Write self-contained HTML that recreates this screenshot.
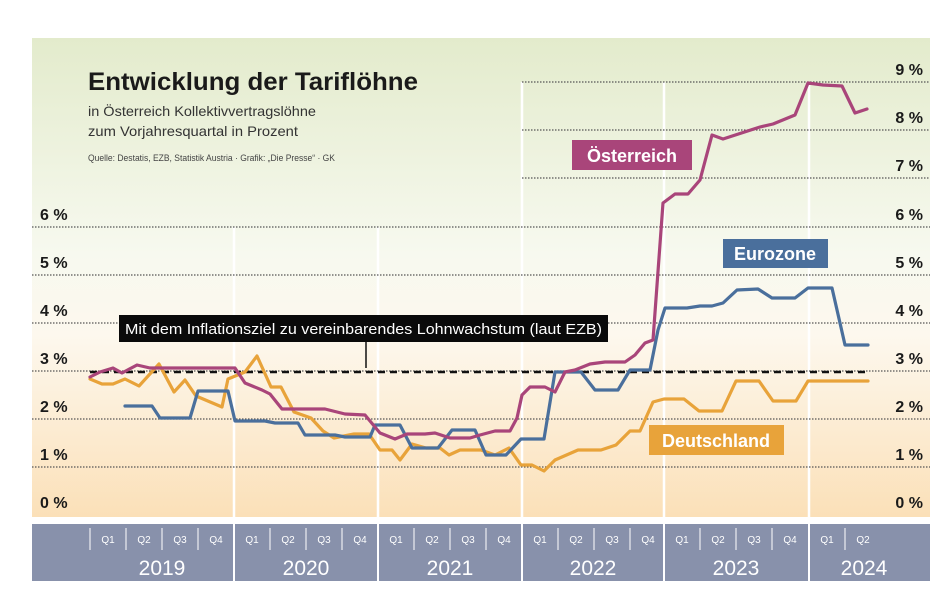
<!DOCTYPE html>
<html><head><meta charset="utf-8"><style>
html,body{margin:0;padding:0;background:#fff;width:945px;height:593px;overflow:hidden}
svg{display:block;font-family:"Liberation Sans",sans-serif}
</style></head><body>
<svg width="945" height="593" viewBox="0 0 945 593">
<defs>
<linearGradient id="bg" x1="0" y1="0" x2="0" y2="1">
<stop offset="0" stop-color="#e3ebcc"/>
<stop offset="0.45" stop-color="#f7f9ef"/>
<stop offset="0.62" stop-color="#fdf8ee"/>
<stop offset="1" stop-color="#fbe0b8"/>
</linearGradient>
</defs>
<rect x="32" y="38" width="898" height="479" fill="url(#bg)"/>
<g stroke="#fff" stroke-width="2.5">
<line x1="234" y1="227" x2="234" y2="517"/>
<line x1="378" y1="227" x2="378" y2="517"/>
<line x1="522" y1="82" x2="522" y2="517"/>
<line x1="664" y1="82" x2="664" y2="517"/>
<line x1="809" y1="82" x2="809" y2="517"/>
</g>
<g stroke="#555" stroke-width="1.3" stroke-dasharray="1.5 1.5">
<line x1="522" y1="82" x2="930" y2="82"/>
<line x1="522" y1="130" x2="930" y2="130"/>
<line x1="522" y1="178" x2="930" y2="178"/>
<line x1="32" y1="227" x2="930" y2="227"/>
<line x1="32" y1="275" x2="930" y2="275"/>
<line x1="32" y1="323" x2="930" y2="323"/>
<line x1="32" y1="371" x2="930" y2="371"/>
<line x1="32" y1="419" x2="930" y2="419"/>
<line x1="32" y1="467" x2="930" y2="467"/>
</g>
<text x="88" y="90" font-size="25" font-weight="bold" fill="#1a1a1a" textLength="330" lengthAdjust="spacingAndGlyphs">Entwicklung der Tariflöhne</text>
<text x="88" y="116" font-size="14" fill="#333" textLength="228" lengthAdjust="spacingAndGlyphs">in Österreich Kollektivvertragslöhne</text>
<text x="88" y="136" font-size="14" fill="#333" textLength="210" lengthAdjust="spacingAndGlyphs">zum Vorjahresquartal in Prozent</text>
<text x="88" y="161" font-size="9" fill="#444" textLength="247" lengthAdjust="spacingAndGlyphs">Quelle: Destatis, EZB, Statistik Austria · Grafik: „Die Presse“ · GK</text>
<g font-size="16" font-weight="bold" fill="#1a1a1a">
<text x="40" y="220">6 %</text>
<text x="40" y="268">5 %</text>
<text x="40" y="316">4 %</text>
<text x="40" y="364">3 %</text>
<text x="40" y="412">2 %</text>
<text x="40" y="460">1 %</text>
<text x="40" y="508">0 %</text>
</g>
<g font-size="16" font-weight="bold" fill="#1a1a1a" text-anchor="end">
<text x="923" y="75">9 %</text>
<text x="923" y="123">8 %</text>
<text x="923" y="171">7 %</text>
<text x="923" y="220">6 %</text>
<text x="923" y="268">5 %</text>
<text x="923" y="316">4 %</text>
<text x="923" y="364">3 %</text>
<text x="923" y="412">2 %</text>
<text x="923" y="460">1 %</text>
<text x="923" y="508">0 %</text>
</g>
<line x1="366" y1="342" x2="366" y2="368" stroke="#111" stroke-width="1.5"/>
<rect x="119" y="315" width="489" height="27" fill="#0a0a0a"/>
<text x="125" y="334" font-size="15" fill="#fff" textLength="477" lengthAdjust="spacingAndGlyphs">Mit dem Inflationsziel zu vereinbarendes Lohnwachstum (laut EZB)</text>
<line x1="90" y1="372" x2="868" y2="372" stroke="#111" stroke-width="2.5" stroke-dasharray="7 5"/>
<g fill="none" stroke-width="3.2" stroke-linejoin="round" stroke-linecap="round">
<polyline stroke="#e8a33a" points="90,379 102,384 113,384 125,379 139,386 159,364 174,392 185,380 196,396 222,407 228,379 245,372 257,356 271,387 281,387 294,412 311,418 323,431 334,438 354,434 369,434 380,450 392,450 400,460 412,444 426,448 440,448 449,455 460,450 481,450 495,455 509,448 521,465 532,465 544,471 555,460 578,450 601,450 616,445 630,431 640,431 653,402 664,399 684,399 699,411 722,411 736,381 759,381 773,401 796,401 808,381 868,381"/>
<polyline stroke="#4a6f9c" points="125,406 152,406 160,418 190,418 198,391 228,391 235,421 265,421 275,423 298,423 305,435 335,435 345,437 370,437 375,425 400,425 412,448 438,448 452,430 475,430 486,455 506,455 521,439 544,439 555,372 581,372 595,390 618,390 630,370 650,370 658,330 665,308 687,308 700,306 712,306 723,303 737,290 758,289 772,298 795,298 808,288 832,288 840,323 845,345 868,345"/>
<polyline stroke="#a9457a" points="90,377 100,372 113,368 122,373 137,365 150,368 235,368 245,383 262,390 270,394 282,409 325,409 345,414 365,415 380,433 395,439 407,434 425,434 435,433 450,438 470,438 480,435 495,431 510,431 517,418 522,395 530,387 545,387 555,392 565,372 575,370 590,364 605,362 625,362 635,355 645,343 653,340 663,203 675,194 688,194 700,180 712,135 723,139 760,127 773,124 795,115 808,83 823,85 842,86 855,113 867,109"/>
</g>
<rect x="572" y="140" width="120" height="30" fill="#a9457a"/>
<text x="632" y="162" font-size="18" font-weight="bold" fill="#fff" text-anchor="middle">Österreich</text>
<rect x="723" y="239" width="105" height="29" fill="#4a6f9c"/>
<text x="775" y="260" font-size="18" font-weight="bold" fill="#fff" text-anchor="middle">Eurozone</text>
<rect x="649" y="425" width="135" height="30" fill="#e8a33a"/>
<text x="716" y="447" font-size="18" font-weight="bold" fill="#fff" text-anchor="middle">Deutschland</text>
<rect x="32" y="524" width="898" height="57" fill="#8891ab"/>
<g stroke="#fff" stroke-width="2">
<line x1="234" y1="524" x2="234" y2="581"/>
<line x1="378" y1="524" x2="378" y2="581"/>
<line x1="522" y1="524" x2="522" y2="581"/>
<line x1="664" y1="524" x2="664" y2="581"/>
<line x1="809" y1="524" x2="809" y2="581"/>
</g>
<g stroke="#fff" stroke-width="1">
<line x1="90" y1="528" x2="90" y2="550"/><line x1="126" y1="528" x2="126" y2="550"/><line x1="162" y1="528" x2="162" y2="550"/><line x1="198" y1="528" x2="198" y2="550"/>
<line x1="270" y1="528" x2="270" y2="550"/><line x1="306" y1="528" x2="306" y2="550"/><line x1="342" y1="528" x2="342" y2="550"/>
<line x1="414" y1="528" x2="414" y2="550"/><line x1="450" y1="528" x2="450" y2="550"/><line x1="486" y1="528" x2="486" y2="550"/>
<line x1="558" y1="528" x2="558" y2="550"/><line x1="594" y1="528" x2="594" y2="550"/><line x1="630" y1="528" x2="630" y2="550"/>
<line x1="700" y1="528" x2="700" y2="550"/><line x1="736" y1="528" x2="736" y2="550"/><line x1="772" y1="528" x2="772" y2="550"/>
<line x1="845" y1="528" x2="845" y2="550"/>
</g>
<g font-size="10" fill="#fff" text-anchor="middle">
<text x="108" y="543">Q1</text><text x="144" y="543">Q2</text><text x="180" y="543">Q3</text><text x="216" y="543">Q4</text>
<text x="252" y="543">Q1</text><text x="288" y="543">Q2</text><text x="324" y="543">Q3</text><text x="360" y="543">Q4</text>
<text x="396" y="543">Q1</text><text x="432" y="543">Q2</text><text x="468" y="543">Q3</text><text x="504" y="543">Q4</text>
<text x="540" y="543">Q1</text><text x="576" y="543">Q2</text><text x="612" y="543">Q3</text><text x="648" y="543">Q4</text>
<text x="682" y="543">Q1</text><text x="718" y="543">Q2</text><text x="754" y="543">Q3</text><text x="790" y="543">Q4</text>
<text x="827" y="543">Q1</text><text x="863" y="543">Q2</text>
</g>
<g font-size="21" fill="#fff" text-anchor="middle">
<text x="162" y="575">2019</text><text x="306" y="575">2020</text><text x="450" y="575">2021</text>
<text x="593" y="575">2022</text><text x="736" y="575">2023</text><text x="864" y="575">2024</text>
</g>
</svg>
</body></html>
